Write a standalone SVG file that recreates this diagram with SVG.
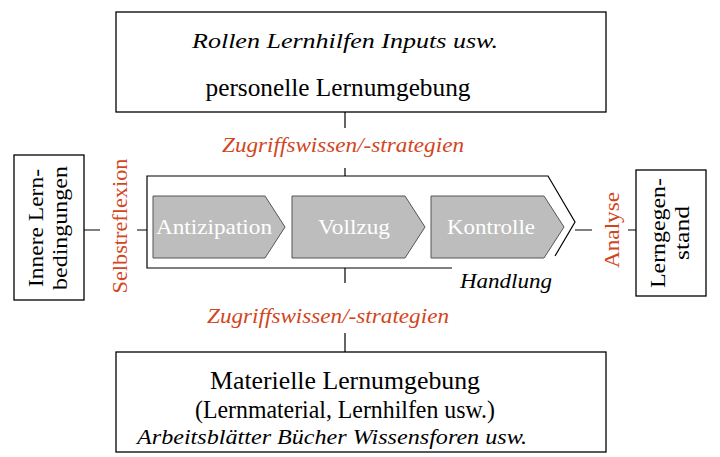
<svg xmlns="http://www.w3.org/2000/svg" width="720" height="457" viewBox="0 0 720 457">
<style>
.box{fill:#fff;stroke:#000;stroke-width:1.3}
.ln{stroke:#000;stroke-width:1.2;fill:none}
.t{font-family:"Liberation Serif","Times New Roman",Tinos,serif;fill:#000}
.i{font-style:italic}
.r{fill:#d2461e}
.chev{fill:#bdbdbd;stroke:#555;stroke-width:1}
.w{fill:#fff;font-family:"Liberation Serif","Times New Roman",serif;font-size:21px;text-anchor:middle}
</style>
<rect width="720" height="457" fill="#fff"/>
<g id="connectors" class="ln">
<path d="M345 112V128M345 168V176M345 268V283M345 333V352M84 230H100M137 230H147M575 230H592M628 230H636"/>
</g>
<g id="top"><rect class="box" x="116" y="12" width="490" height="100"/>
<text class="t i" x="345" y="48" font-size="21" text-anchor="middle" textLength="306" lengthAdjust="spacingAndGlyphs">Rollen  Lernhilfen  Inputs  usw.</text>
<text class="t" x="338" y="96" font-size="25" text-anchor="middle" textLength="265" lengthAdjust="spacingAndGlyphs">personelle Lernumgebung</text></g>
<text class="t i r" x="343" y="152" font-size="20" text-anchor="middle" textLength="242" lengthAdjust="spacingAndGlyphs">Zugriffswissen/-strategien</text>
<text class="t i r" x="328" y="323" font-size="20" text-anchor="middle" textLength="242" lengthAdjust="spacingAndGlyphs">Zugriffswissen/-strategien</text>
<g id="left"><rect class="box" x="14" y="155" width="70" height="145"/>
<text class="t" font-size="22" text-anchor="middle" transform="translate(49 228) rotate(-90)"><tspan x="0" y="-6" textLength="118" lengthAdjust="spacingAndGlyphs">Innere Lern-</tspan><tspan x="0" y="18" textLength="124" lengthAdjust="spacingAndGlyphs">bedingungen</tspan></text></g>
<text class="t r" font-size="22" text-anchor="middle" transform="translate(127 226) rotate(-90)" textLength="135" lengthAdjust="spacingAndGlyphs">Selbstreflexion</text>
<g id="handlung"><path class="ln" d="M452 268H147V176H548L575 222L555 256"/>
<text class="t i" x="506" y="288" font-size="20" text-anchor="middle" textLength="92" lengthAdjust="spacingAndGlyphs">Handlung</text></g>
<g id="antizipation"><path class="chev" d="M153 196H265L285 227L265 258H153Z"/><text class="w" x="214" y="234" textLength="116" lengthAdjust="spacingAndGlyphs">Antizipation</text></g>
<g id="vollzug"><path class="chev" d="M292 196H405L425 227L405 258H292Z"/><text class="w" x="354" y="234" textLength="72" lengthAdjust="spacingAndGlyphs">Vollzug</text></g>
<g id="kontrolle"><path class="chev" d="M431 196H544L564 227L544 258H431Z"/><text class="w" x="491" y="234" textLength="88" lengthAdjust="spacingAndGlyphs">Kontrolle</text></g>
<text class="t r" font-size="22" text-anchor="middle" transform="translate(619 230) rotate(-90)" textLength="76" lengthAdjust="spacingAndGlyphs">Analyse</text>
<g id="right"><rect class="box" x="636" y="170" width="70" height="126"/>
<text class="t" font-size="22" text-anchor="middle" transform="translate(671 233) rotate(-90)"><tspan x="0" y="-6" textLength="110" lengthAdjust="spacingAndGlyphs">Lerngegen-</tspan><tspan x="0" y="18" textLength="54" lengthAdjust="spacingAndGlyphs">stand</tspan></text></g>
<g id="bottom"><rect class="box" x="116" y="352" width="490" height="100"/>
<text class="t" x="345" y="389" font-size="25" text-anchor="middle" textLength="270" lengthAdjust="spacingAndGlyphs">Materielle Lernumgebung</text>
<text class="t" x="345" y="418" font-size="25" text-anchor="middle" textLength="300" lengthAdjust="spacingAndGlyphs">(Lernmaterial, Lernhilfen usw.)</text>
<text class="t i" x="332" y="444" font-size="20" text-anchor="middle" textLength="390" lengthAdjust="spacingAndGlyphs">Arbeitsblätter  Bücher  Wissensforen usw.</text></g>
</svg>
